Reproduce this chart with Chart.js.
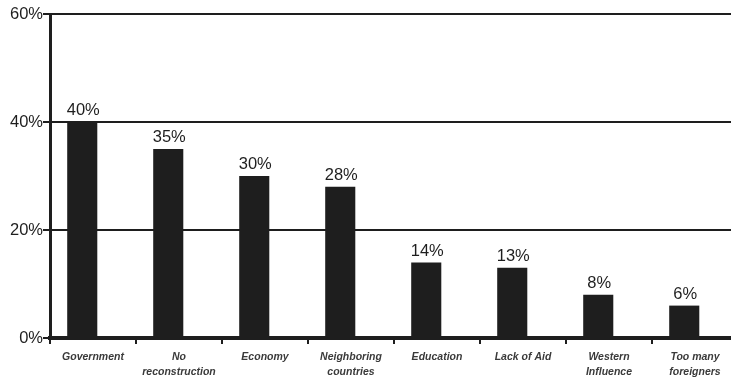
<!DOCTYPE html>
<html>
<head>
<meta charset="utf-8">
<script src="https://cdn.jsdelivr.net/npm/chart.js@4.4.1/dist/chart.umd.min.js"></script>
<style>
  html, body { margin: 0; padding: 0; background: #fff; overflow: hidden; }
  #wrap { width: 738px; height: 382px; }
</style>
</head>
<body>
<div id="wrap"><canvas id="chart" width="738" height="382"></canvas></div>
<script>
// Categories and percentages
const categories = [
    'Government',
    ['No', 'reconstruction'],
    'Economy',
    ['Neighboring', 'countries'],
    'Education',
    'Lack of Aid',
    ['Western', 'Influence'],
    ['Too many', 'foreigners']
];
const percents = [40, 35, 30, 28, 14, 13, 8, 6];
// empty second series keeps the bars sitting left of each category center
const spacer = categories.map(() => null);
const yTicks = [0, 20, 40, 60];

const INK = '#1e1e1e';
const FONT = '"Liberation Sans", Arial, sans-serif';

// Draws "40%" etc above each bar of the first dataset
const valueLabels = {
    id: 'valueLabels',
    afterDatasetsDraw(chart) {
        const ctx = chart.ctx;
        const meta = chart.getDatasetMeta(0);
        ctx.save();
        ctx.font = '16.5px ' + FONT;
        ctx.fillStyle = INK;
        ctx.textAlign = 'center';
        ctx.textBaseline = 'bottom';
        meta.data.forEach((bar, i) => {
            ctx.fillText(percents[i] + '%', bar.x + 1, bar.y - 3);
        });
        ctx.restore();
    }
};

new Chart(document.getElementById('chart'), {
    type: 'bar',
    data: {
        labels: categories,
        datasets: [
            { data: percents, backgroundColor: INK, borderWidth: 0 },
            { data: spacer, backgroundColor: 'transparent' }
        ]
    },
    options: {
        responsive: false,
        animation: false,
        categoryPercentage: 0.5,
        barPercentage: 1.4,
        layout: { padding: { top: 14, right: 0, left: 0, bottom: 0 } },
        plugins: {
            legend: { display: false },
            tooltip: { enabled: false }
        },
        scales: {
            x: {
                afterFit: (s) => { s.height = 44; },
                border: { color: INK, width: 4 },
                grid: {
                    offset: true,
                    drawOnChartArea: false,
                    drawTicks: true,
                    tickLength: 6,
                    color: INK,
                    lineWidth: 2
                },
                ticks: {
                    autoSkip: false,
                    maxRotation: 0,
                    padding: 6,
                    color: '#3a3a3a',
                    font: { family: FONT, size: 10.5, style: 'italic', weight: 'bold', lineHeight: 1.4 }
                }
            },
            y: {
                min: 0,
                max: 60,
                afterFit: (s) => { s.width = 50; },
                afterBuildTicks: (s) => { s.ticks = yTicks.map(v => ({ value: v })); },
                border: { color: INK, width: 3 },
                grid: {
                    color: INK,
                    lineWidth: 2,
                    tickLength: 7
                },
                ticks: {
                    padding: 0,
                    color: INK,
                    font: { family: FONT, size: 16.5 },
                    callback: (v) => v + '%'
                }
            }
        }
    },
    plugins: [valueLabels]
});
</script>
</body>
</html>
